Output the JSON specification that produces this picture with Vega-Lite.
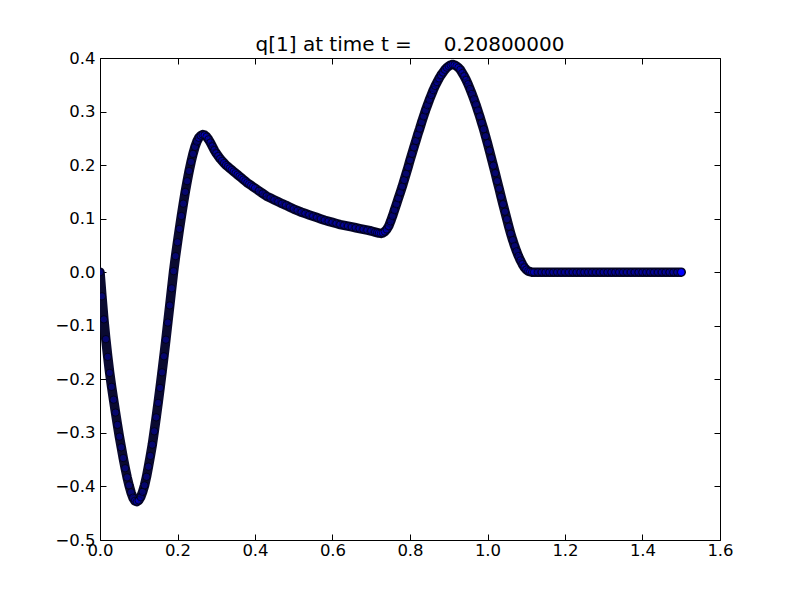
{
  "$schema": "https://vega.github.io/schema/vega-lite/v6.json",
  "width": 620,
  "height": 482,
  "autosize": {"type": "none"},
  "padding": {"left": 100, "top": 58, "right": 80, "bottom": 60},
  "background": "white",
  "title": {
    "text": "q[1] at time t =\u00a0\u00a0\u00a0\u00a0\u00a00.20800000",
    "font": "DejaVu Sans",
    "fontSize": 20,
    "fontWeight": "normal",
    "color": "black",
    "anchor": "middle",
    "baseline": "alphabetic",
    "offset": 6,
    "dy": 27
  },
  "config": {
    "view": {"stroke": "black", "strokeWidth": 1},
    "axis": {
      "grid": false,
      "domain": false,
      "tickColor": "black",
      "tickWidth": 1,
      "tickSize": -6,
      "labelFlush": false,
      "labelFont": "DejaVu Sans",
      "labelFontSize": 16.5,
      "labelColor": "black",
      "title": null
    }
  },
  "data": {
    "values": [
      {"x": 0.000, "q": 0.000}, {"x": 0.005, "q": -0.045}, {"x": 0.010, "q": -0.088}, {"x": 0.015, "q": -0.125},
      {"x": 0.020, "q": -0.158}, {"x": 0.025, "q": -0.188}, {"x": 0.030, "q": -0.214}, {"x": 0.035, "q": -0.238},
      {"x": 0.040, "q": -0.262}, {"x": 0.045, "q": -0.285}, {"x": 0.050, "q": -0.307}, {"x": 0.055, "q": -0.327},
      {"x": 0.060, "q": -0.347}, {"x": 0.065, "q": -0.366}, {"x": 0.070, "q": -0.383}, {"x": 0.075, "q": -0.398},
      {"x": 0.080, "q": -0.411}, {"x": 0.085, "q": -0.421}, {"x": 0.090, "q": -0.427}, {"x": 0.095, "q": -0.4285},
      {"x": 0.100, "q": -0.426}, {"x": 0.105, "q": -0.420}, {"x": 0.110, "q": -0.410}, {"x": 0.115, "q": -0.398},
      {"x": 0.120, "q": -0.382}, {"x": 0.125, "q": -0.363}, {"x": 0.130, "q": -0.343}, {"x": 0.135, "q": -0.322},
      {"x": 0.140, "q": -0.297}, {"x": 0.145, "q": -0.271}, {"x": 0.150, "q": -0.244}, {"x": 0.155, "q": -0.216},
      {"x": 0.160, "q": -0.187}, {"x": 0.165, "q": -0.157}, {"x": 0.170, "q": -0.126}, {"x": 0.175, "q": -0.094},
      {"x": 0.180, "q": -0.062}, {"x": 0.185, "q": -0.030}, {"x": 0.190, "q": 0.002}, {"x": 0.195, "q": 0.030},
      {"x": 0.200, "q": 0.056}, {"x": 0.205, "q": 0.081}, {"x": 0.210, "q": 0.105}, {"x": 0.215, "q": 0.128},
      {"x": 0.220, "q": 0.150}, {"x": 0.225, "q": 0.170}, {"x": 0.230, "q": 0.189}, {"x": 0.235, "q": 0.206},
      {"x": 0.240, "q": 0.221}, {"x": 0.245, "q": 0.234}, {"x": 0.250, "q": 0.244}, {"x": 0.255, "q": 0.251},
      {"x": 0.260, "q": 0.255}, {"x": 0.265, "q": 0.257}, {"x": 0.270, "q": 0.256}, {"x": 0.275, "q": 0.253},
      {"x": 0.280, "q": 0.248}, {"x": 0.285, "q": 0.242}, {"x": 0.290, "q": 0.235}, {"x": 0.295, "q": 0.228},
      {"x": 0.300, "q": 0.222}, {"x": 0.305, "q": 0.217}, {"x": 0.310, "q": 0.212}, {"x": 0.315, "q": 0.208},
      {"x": 0.320, "q": 0.204}, {"x": 0.325, "q": 0.200}, {"x": 0.330, "q": 0.197}, {"x": 0.335, "q": 0.194},
      {"x": 0.340, "q": 0.191}, {"x": 0.345, "q": 0.188}, {"x": 0.350, "q": 0.185}, {"x": 0.355, "q": 0.182},
      {"x": 0.360, "q": 0.179}, {"x": 0.365, "q": 0.176}, {"x": 0.370, "q": 0.173}, {"x": 0.375, "q": 0.170},
      {"x": 0.380, "q": 0.167}, {"x": 0.385, "q": 0.1645}, {"x": 0.390, "q": 0.162}, {"x": 0.395, "q": 0.1595},
      {"x": 0.400, "q": 0.157}, {"x": 0.410, "q": 0.152}, {"x": 0.420, "q": 0.147}, {"x": 0.430, "q": 0.142},
      {"x": 0.440, "q": 0.1385}, {"x": 0.450, "q": 0.135}, {"x": 0.460, "q": 0.1315}, {"x": 0.470, "q": 0.128},
      {"x": 0.480, "q": 0.125}, {"x": 0.490, "q": 0.1215}, {"x": 0.500, "q": 0.118}, {"x": 0.510, "q": 0.115},
      {"x": 0.520, "q": 0.112}, {"x": 0.530, "q": 0.1095}, {"x": 0.540, "q": 0.107}, {"x": 0.550, "q": 0.1045},
      {"x": 0.560, "q": 0.102}, {"x": 0.570, "q": 0.0995}, {"x": 0.580, "q": 0.097}, {"x": 0.590, "q": 0.095},
      {"x": 0.600, "q": 0.093}, {"x": 0.610, "q": 0.091}, {"x": 0.620, "q": 0.089}, {"x": 0.630, "q": 0.0875},
      {"x": 0.640, "q": 0.086}, {"x": 0.650, "q": 0.0845}, {"x": 0.660, "q": 0.083}, {"x": 0.670, "q": 0.0815},
      {"x": 0.680, "q": 0.080}, {"x": 0.690, "q": 0.0785}, {"x": 0.700, "q": 0.077}, {"x": 0.710, "q": 0.075},
      {"x": 0.715, "q": 0.074}, {"x": 0.720, "q": 0.073}, {"x": 0.725, "q": 0.0725}, {"x": 0.730, "q": 0.0735},
      {"x": 0.735, "q": 0.076}, {"x": 0.740, "q": 0.080}, {"x": 0.745, "q": 0.086}, {"x": 0.750, "q": 0.095},
      {"x": 0.755, "q": 0.105}, {"x": 0.760, "q": 0.116}, {"x": 0.765, "q": 0.127}, {"x": 0.770, "q": 0.138},
      {"x": 0.775, "q": 0.149}, {"x": 0.780, "q": 0.160}, {"x": 0.785, "q": 0.172}, {"x": 0.790, "q": 0.184},
      {"x": 0.795, "q": 0.196}, {"x": 0.800, "q": 0.209}, {"x": 0.805, "q": 0.221}, {"x": 0.810, "q": 0.233},
      {"x": 0.815, "q": 0.245}, {"x": 0.820, "q": 0.257}, {"x": 0.825, "q": 0.268}, {"x": 0.830, "q": 0.280},
      {"x": 0.835, "q": 0.291}, {"x": 0.840, "q": 0.302}, {"x": 0.845, "q": 0.312}, {"x": 0.850, "q": 0.322},
      {"x": 0.855, "q": 0.331}, {"x": 0.860, "q": 0.340}, {"x": 0.865, "q": 0.348}, {"x": 0.870, "q": 0.355},
      {"x": 0.875, "q": 0.362}, {"x": 0.880, "q": 0.368}, {"x": 0.885, "q": 0.373}, {"x": 0.890, "q": 0.378},
      {"x": 0.895, "q": 0.382}, {"x": 0.900, "q": 0.385}, {"x": 0.905, "q": 0.387}, {"x": 0.910, "q": 0.388},
      {"x": 0.915, "q": 0.387}, {"x": 0.920, "q": 0.385}, {"x": 0.925, "q": 0.382}, {"x": 0.930, "q": 0.378},
      {"x": 0.935, "q": 0.372}, {"x": 0.940, "q": 0.366}, {"x": 0.945, "q": 0.359}, {"x": 0.950, "q": 0.351},
      {"x": 0.955, "q": 0.342}, {"x": 0.960, "q": 0.333}, {"x": 0.965, "q": 0.323}, {"x": 0.970, "q": 0.313},
      {"x": 0.975, "q": 0.302}, {"x": 0.980, "q": 0.291}, {"x": 0.985, "q": 0.279}, {"x": 0.990, "q": 0.267},
      {"x": 0.995, "q": 0.254}, {"x": 1.000, "q": 0.241}, {"x": 1.005, "q": 0.227}, {"x": 1.010, "q": 0.213},
      {"x": 1.015, "q": 0.199}, {"x": 1.020, "q": 0.185}, {"x": 1.025, "q": 0.170}, {"x": 1.030, "q": 0.156},
      {"x": 1.035, "q": 0.141}, {"x": 1.040, "q": 0.127}, {"x": 1.045, "q": 0.113}, {"x": 1.050, "q": 0.099},
      {"x": 1.055, "q": 0.085}, {"x": 1.060, "q": 0.072}, {"x": 1.065, "q": 0.060}, {"x": 1.070, "q": 0.049},
      {"x": 1.075, "q": 0.039}, {"x": 1.080, "q": 0.030}, {"x": 1.085, "q": 0.022}, {"x": 1.090, "q": 0.015},
      {"x": 1.095, "q": 0.009}, {"x": 1.100, "q": 0.005}, {"x": 1.105, "q": 0.002}, {"x": 1.110, "q": 0.001},
      {"x": 1.115, "q": 0.000}, {"x": 1.120, "q": 0.000}, {"x": 1.130, "q": 0.000}, {"x": 1.140, "q": 0.000},
      {"x": 1.150, "q": 0.000}, {"x": 1.160, "q": 0.000}, {"x": 1.170, "q": 0.000}, {"x": 1.180, "q": 0.000},
      {"x": 1.190, "q": 0.000}, {"x": 1.200, "q": 0.000}, {"x": 1.210, "q": 0.000}, {"x": 1.220, "q": 0.000},
      {"x": 1.230, "q": 0.000}, {"x": 1.240, "q": 0.000}, {"x": 1.250, "q": 0.000}, {"x": 1.260, "q": 0.000},
      {"x": 1.270, "q": 0.000}, {"x": 1.280, "q": 0.000}, {"x": 1.290, "q": 0.000}, {"x": 1.300, "q": 0.000},
      {"x": 1.310, "q": 0.000}, {"x": 1.320, "q": 0.000}, {"x": 1.330, "q": 0.000}, {"x": 1.340, "q": 0.000},
      {"x": 1.350, "q": 0.000}, {"x": 1.360, "q": 0.000}, {"x": 1.370, "q": 0.000}, {"x": 1.380, "q": 0.000},
      {"x": 1.390, "q": 0.000}, {"x": 1.400, "q": 0.000}, {"x": 1.410, "q": 0.000}, {"x": 1.420, "q": 0.000},
      {"x": 1.430, "q": 0.000}, {"x": 1.440, "q": 0.000}, {"x": 1.450, "q": 0.000}, {"x": 1.460, "q": 0.000},
      {"x": 1.470, "q": 0.000}, {"x": 1.480, "q": 0.000}, {"x": 1.490, "q": 0.000}, {"x": 1.500, "q": 0.000}
    ]
  },
  "resolve": {"axis": {"x": "independent", "y": "independent"}},
  "layer": [
    {
      "mark": {"type": "line", "color": "#0a0a30", "strokeWidth": 9.5, "strokeCap": "round", "strokeJoin": "round", "clip": true},
      "encoding": {
        "x": {"field": "x", "type": "quantitative", "scale": {"domain": [0, 1.6], "nice": false, "zero": false},
              "axis": {"orient": "top", "labels": false, "minExtent": 0, "maxExtent": 0, "values": [0, 0.2, 0.4, 0.6, 0.8, 1.0, 1.2, 1.4, 1.6]}},
        "y": {"field": "q", "type": "quantitative", "scale": {"domain": [-0.5, 0.4], "nice": false, "zero": false},
              "axis": {"orient": "right", "labels": false, "minExtent": 0, "maxExtent": 0, "values": [-0.5, -0.4, -0.3, -0.2, -0.1, 0, 0.1, 0.2, 0.3, 0.4]}}
      }
    },
    {
      "mark": {"type": "point", "shape": "circle", "filled": true, "size": 54, "fill": "#0000ff", "fillOpacity": 0.3, "stroke": "#000000", "strokeWidth": 0.7, "clip": true},
      "encoding": {
        "x": {"field": "x", "type": "quantitative", "scale": {"domain": [0, 1.6], "nice": false, "zero": false},
              "axis": {"orient": "bottom", "format": ".1f", "labelPadding": 8, "values": [0, 0.2, 0.4, 0.6, 0.8, 1.0, 1.2, 1.4, 1.6]}},
        "y": {"field": "q", "type": "quantitative", "scale": {"domain": [-0.5, 0.4], "nice": false, "zero": false},
              "axis": {"orient": "left", "format": ".1f", "labelPadding": 11, "values": [-0.5, -0.4, -0.3, -0.2, -0.1, 0, 0.1, 0.2, 0.3, 0.4]}}
      }
    },
    {
      "transform": [{"filter": "datum.x >= 1.5"}],
      "mark": {"type": "point", "shape": "circle", "filled": true, "size": 54, "fill": "#0000ff", "fillOpacity": 1, "stroke": "#000000", "strokeWidth": 0.7, "clip": true},
      "encoding": {
        "x": {"field": "x", "type": "quantitative", "axis": null},
        "y": {"field": "q", "type": "quantitative", "axis": null}
      }
    }
  ]
}
